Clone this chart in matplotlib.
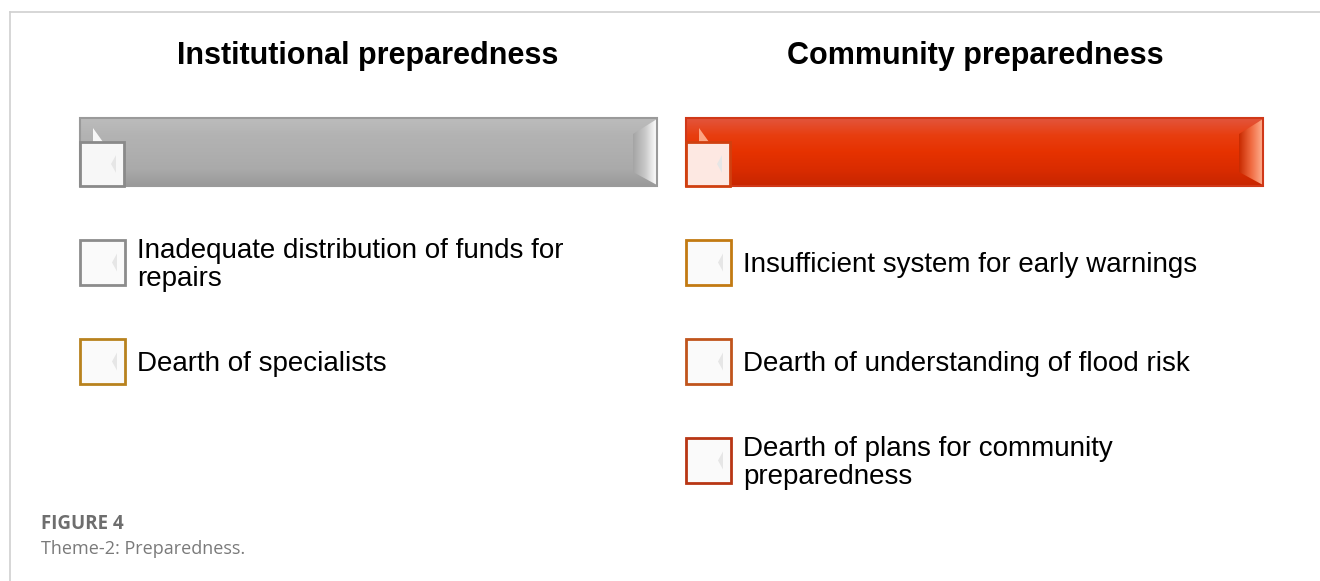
import matplotlib
matplotlib.use("Agg")
import matplotlib.pyplot as plt
import numpy as np
from matplotlib.patches import Rectangle, Polygon
from matplotlib.colors import LinearSegmentedColormap

# ---- data ----
panel_titles = ["Institutional preparedness", "Community preparedness"]
institutional_items = ["Inadequate distribution of funds for\nrepairs", "Dearth of specialists"]
community_items = ["Insufficient system for early warnings",
                   "Dearth of understanding of flood risk",
                   "Dearth of plans for community\npreparedness"]
institutional_box_colors = ["#8c8c8c", "#b8821e"]
community_box_colors = ["#c27a12", "#c0541c", "#b83614"]
caption_label = "FIGURE 4"
caption_text = "Theme-2: Preparedness."

W, H = 1320, 581
fig = plt.figure(figsize=(W / 100, H / 100), dpi=100)
ax = fig.add_axes([0, 0, 1, 1])
ax.set_xlim(0, W)
ax.set_ylim(H, 0)
ax.axis("off")

# frame lines
ax.plot([9.5, 9.5], [12, H], color="#d0d0d0", lw=1.2)
ax.plot([9.5, W], [12, 12], color="#d0d0d0", lw=1.2)

def gradient_bar(x0, x1, y0, y1, stops, edge, bevel_stops):
    cmap = LinearSegmentedColormap.from_list("g", stops)
    grad = np.linspace(0, 1, 100).reshape(-1, 1)
    ax.imshow(grad, cmap=cmap, extent=[x0, x1, y1, y0], aspect="auto", zorder=1,
              interpolation="bilinear")
    bcmap = LinearSegmentedColormap.from_list("b", bevel_stops)
    hgrad = np.linspace(0, 1, 100).reshape(1, -1)
    poly = Polygon([[x1 - 24, y0 + 16], [x1, y0 + 1], [x1, y1 - 1], [x1 - 24, y1 - 14]],
                   closed=True, facecolor="none", edgecolor="none", zorder=2)
    ax.add_patch(poly)
    im = ax.imshow(hgrad, cmap=bcmap, extent=[x1 - 24, x1, y1, y0], aspect="auto",
                   zorder=2, interpolation="bilinear")
    im.set_clip_path(poly)
    ax.add_patch(Polygon([[x0 + 13, y0 + 10], [x0 + 23, y0 + 24], [x0 + 13, y0 + 24]],
                         closed=True, facecolor=bevel_stops[-1], edgecolor="none", alpha=0.9, zorder=2))
    ax.add_patch(Rectangle((x0, y0), x1 - x0, y1 - y0, facecolor="none",
                           edgecolor=edge, lw=1.5, zorder=3))
    ax.set_xlim(0, W)
    ax.set_ylim(H, 0)

def box(x, y, size, edge, face="#fafafa"):
    ax.add_patch(Rectangle((x, y), size, size, facecolor=face, edgecolor=edge, lw=2.0, zorder=4))
    ax.add_patch(Polygon([[x + size - 8, y + size * 0.3], [x + size - 13, y + size * 0.5],
                          [x + size - 8, y + size * 0.7]], closed=True,
                         facecolor="#e6e6e6", edgecolor="none", zorder=5))

panels = [
    dict(x0=80, x1=657, title_x=368,
         stops=["#bcbcbc", "#b3b3b3", "#afafaf", "#aaaaaa", "#9a9a9a"],
         edge="#9a9a9a", bevel=["#a4a4a4", "#c8c8c8", "#ffffff"],
         sq_edge="#8a8a8a", sq_face="#f7f7f7",
         items=institutional_items, colors=institutional_box_colors,
         ys=[240, 339]),
    dict(x0=686, x1=1263, title_x=975,
         stops=["#e2553c", "#e83e10", "#e63200", "#da2c00", "#c82600"],
         edge="#d03818", bevel=["#c82a00", "#f06a40", "#ffb090"],
         sq_edge="#d04010", sq_face="#fde8e2",
         items=community_items, colors=community_box_colors,
         ys=[240, 339, 438]),
]

for title, p in zip(panel_titles, panels):
    ax.text(p["title_x"], 56, title, ha="center", va="center", fontsize=22,
            fontweight="bold", family="Liberation Sans", color="black")
    gradient_bar(p["x0"], p["x1"], 118, 186, p["stops"], p["edge"], p["bevel"])
    box(p["x0"], 142, 44, p["sq_edge"], p["sq_face"])
    for label, col, y in zip(p["items"], p["colors"], p["ys"]):
        box(p["x0"], y, 45, col)
        ax.text(p["x0"] + 57, y + 25, label, ha="left", va="center", fontsize=20,
                family="Liberation Sans", color="black", linespacing=1.15)

ax.text(41, 524, caption_label, ha="left", va="center", fontsize=13.5,
        fontweight="bold", family="Open Sans", color="#6e6e6e")
ax.text(41, 549, caption_text, ha="left", va="center", fontsize=13,
        family="Open Sans", color="#7a7a7a")

fig.savefig("out.png", dpi=100)
